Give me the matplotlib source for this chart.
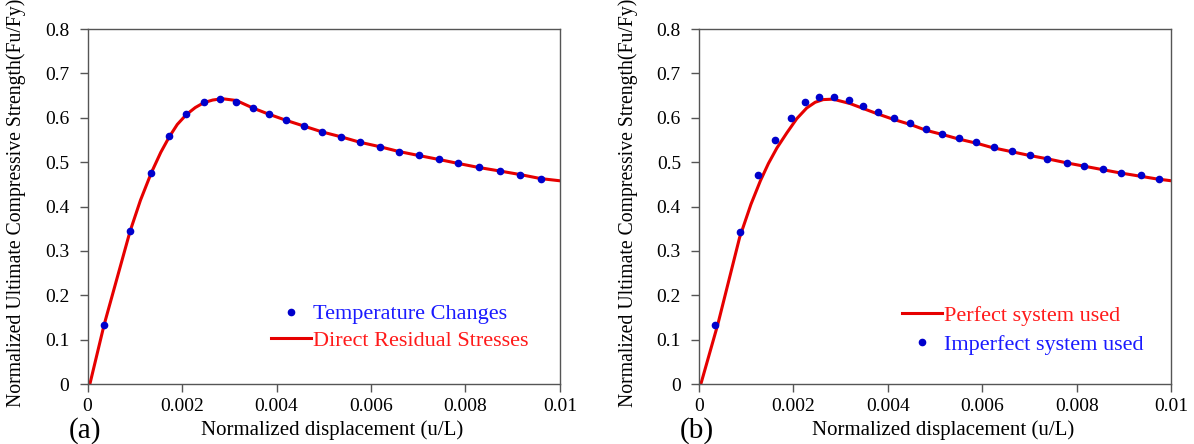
import matplotlib
matplotlib.use("Agg")
import matplotlib.pyplot as plt

plt.rcParams['font.family'] = ['Liberation Serif', 'DejaVu Serif']

# (a) Temperature changes (points) vs direct residual stresses (line)
a_pts_x = [0.00035, 0.00090, 0.00135, 0.00173, 0.00209, 0.00246, 0.00281, 0.00315,
           0.00350, 0.00384, 0.00421, 0.00459, 0.00497, 0.00537, 0.00576, 0.00618,
           0.00659, 0.00701, 0.00744, 0.00785, 0.00828, 0.00873, 0.00916, 0.00959]
a_pts_y = [0.133, 0.344, 0.476, 0.558, 0.608, 0.635, 0.642, 0.635,
           0.622, 0.608, 0.594, 0.581, 0.568, 0.557, 0.545, 0.535,
           0.524, 0.515, 0.506, 0.497, 0.488, 0.480, 0.472, 0.463]
a_line_x = [0.00005, 0.00035, 0.00090, 0.00112, 0.00135, 0.00155, 0.00173, 0.00190,
            0.00209, 0.00228, 0.00246, 0.00265, 0.00285, 0.00315, 0.00350, 0.00384,
            0.00421, 0.00459, 0.00497, 0.00537, 0.00576, 0.00618, 0.00659, 0.00701,
            0.00744, 0.00785, 0.00828, 0.00873, 0.00916, 0.00959, 0.01]
a_line_y = [0.0, 0.133, 0.344, 0.414, 0.476, 0.522, 0.557, 0.585,
            0.607, 0.623, 0.634, 0.640, 0.643, 0.639, 0.622, 0.608,
            0.594, 0.581, 0.568, 0.557, 0.545, 0.535, 0.524, 0.515,
            0.506, 0.497, 0.488, 0.480, 0.472, 0.463, 0.458]

# (b) Perfect system (line) vs imperfect system (points)
b_pts_x = [0.000345, 0.00086, 0.00126, 0.00160, 0.00194, 0.00225, 0.00255, 0.00286,
           0.00317, 0.00347, 0.00379, 0.00412, 0.00446, 0.00480, 0.00515, 0.00551,
           0.00586, 0.00624, 0.00662, 0.00700, 0.00737, 0.00778, 0.00815, 0.00855,
           0.00893, 0.00935, 0.00974]
b_pts_y = [0.133, 0.342, 0.472, 0.549, 0.599, 0.635, 0.647, 0.647,
           0.640, 0.627, 0.614, 0.599, 0.588, 0.575, 0.563, 0.554,
           0.545, 0.535, 0.525, 0.517, 0.508, 0.499, 0.491, 0.485,
           0.476, 0.470, 0.462]
b_line_x = [0.00004, 0.00040, 0.00086, 0.00110, 0.00130, 0.00147, 0.00165, 0.00186,
            0.00207, 0.00228, 0.00246, 0.00263, 0.00284, 0.00320, 0.00375, 0.00410,
            0.00450, 0.00480, 0.00520, 0.00550, 0.00590, 0.00620, 0.00660, 0.00700,
            0.00740, 0.00780, 0.00820, 0.00850, 0.00890, 0.00930, 0.00970, 0.01]
b_line_y = [0.0, 0.135, 0.330, 0.405, 0.458, 0.497, 0.532, 0.566,
            0.598, 0.622, 0.635, 0.641, 0.642, 0.632, 0.610, 0.597,
            0.584, 0.572, 0.561, 0.552, 0.542, 0.533, 0.524, 0.515,
            0.507, 0.498, 0.490, 0.484, 0.476, 0.469, 0.462, 0.458]

xticks = [0, 0.002, 0.004, 0.006, 0.008, 0.01]
xtick_labels = ['0', '0.002', '0.004', '0.006', '0.008', '0.01']
yticks = [0, 0.1, 0.2, 0.3, 0.4, 0.5, 0.6, 0.7, 0.8]
ytick_labels = ['0', '0.1', '0.2', '0.3', '0.4', '0.5', '0.6', '0.7', '0.8']

line_col = '#e60000'
pt_col = '#0000cc'
spine_col = '#555555'

fig = plt.figure(figsize=(11.94, 4.44), dpi=100)
ax1 = fig.add_axes([0.0733, 0.1351, 0.3957, 0.7995])
ax2 = fig.add_axes([0.5854, 0.1351, 0.3957, 0.7995])


def style(ax, tag):
    ax.set_xlim(0, 0.01)
    ax.set_ylim(0, 0.8)
    ax.set_xticks(xticks, xtick_labels)
    ax.set_yticks(yticks, ytick_labels)
    ax.tick_params(direction='out', length=6, width=1, colors=spine_col,
                   labelcolor='black', labelsize=14)
    ax.tick_params(axis='y', pad=7)
    ax.tick_params(axis='x', pad=4)
    for s in ax.spines.values():
        s.set_color(spine_col)
        s.set_linewidth(1)
    ax.set_xlabel('Normalized displacement (u/L)', fontsize=15)
    ax.set_ylabel('Normalized Ultimate Compressive Strength(Fu/Fy)', fontsize=14.2)
    ax.xaxis.set_label_coords(0.517, -0.103)
    ax.xaxis.label.set_va('top')
    ax.yaxis.set_label_coords(-0.13, 0.51)
    ax.text(-0.005, -0.13, tag, transform=ax.transAxes, fontsize=21,
            ha='center', va='center')


ax1.plot(a_line_x, a_line_y, color=line_col, lw=2.2, zorder=2,
         label='Direct Residual Stresses')
ax1.plot(a_pts_x, a_pts_y, 'o', color=pt_col, ms=4.5, zorder=3,
         label='Temperature Changes')
style(ax1, '(a)')
h, l = ax1.get_legend_handles_labels()
ax1.legend(h[::-1], l[::-1], loc='center left', bbox_to_anchor=(0.388, 0.16),
           frameon=False, fontsize=16, handlelength=1.8, handletextpad=0.1,
           labelspacing=0.25, borderpad=0, borderaxespad=0,
           labelcolor=['#1a1aff', '#ff1a1a'])

ax2.plot(b_line_x, b_line_y, color=line_col, lw=2.2, zorder=2,
         label='Perfect system used')
ax2.plot(b_pts_x, b_pts_y, 'o', color=pt_col, ms=4.5, zorder=3,
         label='Imperfect system used')
style(ax2, '(b)')
ax2.legend(loc='center left', bbox_to_anchor=(0.429, 0.152),
           frameon=False, fontsize=16, handlelength=1.8, handletextpad=0.1,
           labelspacing=0.35, borderpad=0, borderaxespad=0,
           labelcolor=['#ff1a1a', '#1a1aff'])

fig.savefig('out.png', dpi=100)
